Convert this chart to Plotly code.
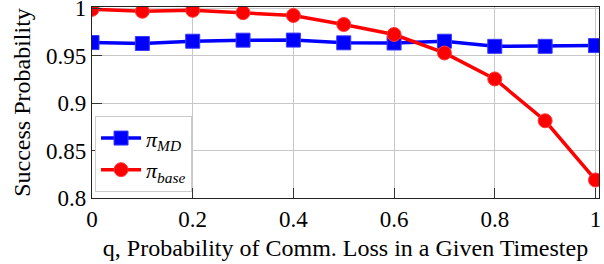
import plotly.graph_objects as go

q = [0, 0.1, 0.2, 0.3, 0.4, 0.5, 0.6, 0.7, 0.8, 0.9, 1.0]
pi_md = [0.964, 0.963, 0.9654, 0.9665, 0.9666, 0.9637, 0.9635, 0.9654, 0.960, 0.960, 0.9608]
pi_base = [0.999, 0.997, 0.998, 0.9955, 0.9926, 0.983, 0.9725, 0.953, 0.9256, 0.8815, 0.819]

x_ticks = [0, 0.2, 0.4, 0.6, 0.8, 1.0]
x_ticktext = ["0", "0.2", "0.4", "0.6", "0.8", "1"]
y_ticks = [0.8, 0.85, 0.9, 0.95, 1.0]
y_ticktext = ["0.8", "0.85", "0.9", "0.95", "1"]

FONT = "Liberation Serif"

fig = go.Figure()
fig.add_trace(go.Scatter(
    x=q, y=pi_md, mode="lines+markers", name="<i>π<sub>MD</sub></i>",
    line=dict(color="#0000ff", width=3.5),
    marker=dict(symbol="square", size=14, color="#0000ff",
                line=dict(color="#3a3aff", width=1)),
))
fig.add_trace(go.Scatter(
    x=q, y=pi_base, mode="lines+markers", name="<i>π<sub>base</sub></i>",
    line=dict(color="#ff0000", width=3.5),
    marker=dict(symbol="circle", size=14, color="#ff0000",
                line=dict(color="#ff3a3a", width=1)),
))

fig.update_layout(
    width=604, height=264,
    margin=dict(l=92, r=5, t=7, b=66, autoexpand=False),
    paper_bgcolor="white", plot_bgcolor="white",
    font_family=FONT, font_size=23, font_color="black",
    showlegend=True,
    legend=dict(x=0.006, y=0.03, xanchor="left", yanchor="bottom",
                bgcolor="white", bordercolor="#cccccc", borderwidth=1,
                tracegroupgap=0, itemwidth=40, font_size=22),
    xaxis=dict(range=[0, 1.007], tickvals=x_ticks, ticktext=x_ticktext,
               showgrid=True, gridcolor="#c8c8c8", gridwidth=1,
               ticks="inside", ticklen=10, tickcolor="#333333",
               showline=True, linecolor="#222222", linewidth=1.2, mirror=True,
               zeroline=False, ticklabeloverflow="allow",
               title=dict(text="q, Probability of Comm. Loss in a Given Timestep",
                          font_size=24, standoff=8)),
    yaxis=dict(range=[0.8, 1.0015], tickvals=y_ticks, ticktext=y_ticktext,
               showgrid=True, gridcolor="#c8c8c8", gridwidth=1,
               ticks="inside", ticklen=10, tickcolor="#333333",
               showline=True, linecolor="#222222", linewidth=1.2, mirror=True,
               zeroline=False, ticklabeloverflow="allow",
               title=dict(text="Success Probability", font_size=24, standoff=8)),
)

post = """
document.body.style.margin='0';
document.body.style.overflow='hidden';
var gd = document.getElementById('{plot_id}');
var cfg = {displayModeBar: false};
Plotly.newPlot(gd, gd.data, gd.layout, cfg);
if (document.fonts && document.fonts.load) {
  document.fonts.load('23px "Liberation Serif"').then(function(){
    Plotly.newPlot(gd, gd.data, gd.layout, cfg);
  });
}
setTimeout(function(){ Plotly.newPlot(gd, gd.data, gd.layout, cfg); }, 150);
"""

fig.write_html("out.html", config={"displayModeBar": False}, post_script=post)
